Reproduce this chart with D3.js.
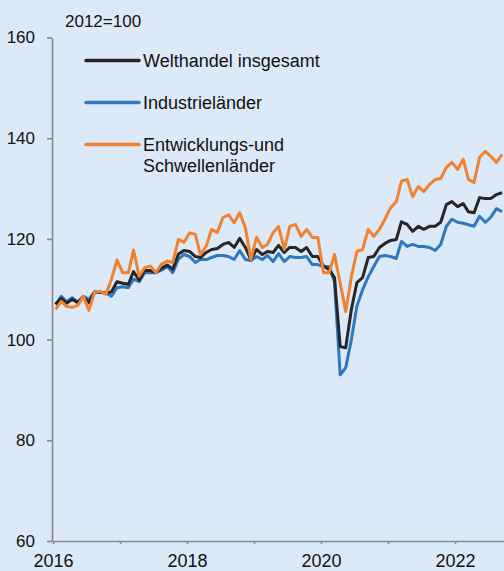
<!DOCTYPE html>
<html>
<head>
<meta charset="utf-8">
<script src="https://cdn.jsdelivr.net/npm/d3@7"></script>
<style>
  body { margin: 0; background: #dce9f8; }
  svg { display: block; font-family: "Liberation Sans", Arial, sans-serif; }
  .axis path, .axis line { stroke: #8c8c8c; stroke-width: 1.7; }
</style>
</head>
<body>
<svg width="504" height="571"></svg>
<script>
// Monatswerte Jan 2016 - Sep 2022, 2012=100
var welthandel = [
  107, 108.2, 107.2, 108, 107.3, 108.5, 107.3, 109.4, 109.4, 109.2, 109.5, 111.5,
  111.2, 111, 113.5, 111.8, 113.7, 113.7, 113.3, 114.2, 114.8, 114, 117, 117.7,
  117.5, 116.5, 116.3, 117.3, 117.9, 118.1, 118.9, 119.3, 118.3, 120.1, 118.3, 115.9,
  117.9, 116.9, 117.5, 117.3, 118.7, 117.3, 118.3, 118.3, 117.5, 118.3, 116.5, 116.5,
  114.6, 113.9, 112.3, 98.6, 98.4, 106, 111.3, 112.3, 116.3, 116.5, 118.3, 119.1,
  119.7, 119.9, 123.4, 122.9, 121.5, 122.5, 121.9, 122.5, 122.5, 123.3, 126.8, 127.4,
  126.4, 127, 125.4, 125.2, 128.2, 128, 128, 128.8, 129.2
];
var industrie = [
  107, 108.6, 107.5, 108.3, 107.5, 108.6, 108, 109.5, 109.4, 109.3, 108.6, 110.3,
  110.5, 110.3, 112, 111.5, 113.3, 113.3, 113.3, 113.8, 114.5, 113.3, 116, 116.9,
  116.5, 115.3, 115.9, 115.9, 116.3, 116.7, 116.7, 116.5, 115.9, 117.7, 115.9, 115.7,
  116.5, 115.9, 116.7, 115.5, 117.1, 115.5, 116.5, 116.3, 116.3, 116.5, 114.9, 114.9,
  114.5, 114.5, 111.5, 93, 94.4, 100, 106.6, 109.9, 112.5, 114.5, 116.5, 116.7,
  116.5, 116.1, 119.5, 118.5, 118.9, 118.5, 118.5, 118.3, 117.7, 118.9, 122.5, 123.9,
  123.3, 123.1, 122.8, 122.5, 124.5, 123.3, 124.3, 126, 125.4
];
var schwellen = [
  106, 107.6, 106.6, 106.4, 106.8, 108.6, 105.8, 109.4, 109.6, 109, 112, 115.8,
  113.3, 113.3, 117.8, 112.6, 114.3, 114.6, 113.3, 115, 115.6, 115.3, 119.9, 119.3,
  121.2, 120.9, 116.9, 118.5, 121.9, 121.3, 124.2, 124.8, 123.2, 125.2, 122.2, 115.9,
  120.3, 118.3, 118.9, 121.2, 122.5, 117.9, 122.5, 122.9, 120.5, 121.9, 120.3, 120.3,
  113.3, 113.3, 116.9, 111.2, 105.6, 112.5, 117.5, 117.9, 121.9, 120.5, 121.9, 123.9,
  126.2, 127.4, 131.5, 131.8, 128.4, 130.4, 129.4, 130.8, 131.8, 132, 134.2, 135.2,
  133.8, 135.8, 131.8, 131.2, 136.2, 137.4, 136.4, 135.2, 136.8
];
var yTicks = [60, 80, 100, 120, 140, 160];
var labelYears = [2016, 2018, 2020, 2022];

// Monate (Mitte des Monats)
var months = d3.timeMonth.range(new Date(2016, 0, 1), new Date(2022, 9, 1))
  .map(function(d) { return new Date(d.getFullYear(), d.getMonth(), 15); });

var series = [
  {name: "Industrieländer", values: industrie, color: "#2f78bf"},
  {name: "Welthandel insgesamt", values: welthandel, color: "#262626"},
  {name: "Entwicklungs-und|Schwellenländer", values: schwellen, color: "#f28130"}
];

var svg = d3.select("svg");

var x = d3.scaleTime()
  .domain([new Date(2016, 0, 1), new Date(2022, 0, 1)])
  .range([53, 455]);
x.domain([x.domain()[0], x.invert(504)]).range([53, 504]);

var y = d3.scaleLinear()
  .domain([60, 160])
  .range([541, 37.5]);

// y-Achse
var yAxis = svg.append("g")
  .attr("class", "axis")
  .attr("transform", "translate(52,0)")
  .call(d3.axisLeft(y).tickValues(yTicks).tickSize(5).tickSizeOuter(0).tickPadding(12));
yAxis.selectAll("text")
  .attr("font-size", 17)
  .attr("font-family", "Liberation Sans, Arial, sans-serif")
  .attr("fill", "#111");

// x-Achse
var xAxis = svg.append("g")
  .attr("class", "axis")
  .attr("transform", "translate(0,541)")
  .call(d3.axisBottom(x).ticks(d3.timeYear.every(1)).tickSize(3).tickSizeOuter(0)
    .tickFormat(function(d) {
      return labelYears.indexOf(d.getFullYear()) >= 0 ? d.getFullYear() : "";
    }));
xAxis.selectAll("text")
  .attr("y", 13)
  .attr("dy", "0.71em")
  .attr("font-size", 18)
  .attr("font-family", "Liberation Sans, Arial, sans-serif")
  .attr("fill", "#111");

var line = d3.line()
  .x(function(d, i) { return x(months[i]); })
  .y(function(d) { return y(d); });

svg.append("g")
  .selectAll("path")
  .data(series)
  .enter().append("path")
    .attr("d", function(d) { return line(d.values); })
    .attr("fill", "none")
    .attr("stroke", function(d) { return d.color; })
    .attr("stroke-width", 3)
    .attr("stroke-linejoin", "round");

// Basisjahr
svg.append("text")
  .attr("x", 65)
  .attr("y", 27)
  .attr("font-size", 17)
  .attr("fill", "#111")
  .text("2012=100");

// Legende
var legendOrder = [series[1], series[0], series[2]];
var legend = svg.append("g")
  .selectAll("g")
  .data(legendOrder)
  .enter().append("g")
    .attr("transform", function(d, i) { return "translate(0," + (60.5 + i * 42) + ")"; });

legend.append("line")
  .attr("x1", 86)
  .attr("x2", 139)
  .attr("stroke", function(d) { return d.color; })
  .attr("stroke-width", 3.5)
  .attr("stroke-linecap", "round");

legend.append("text")
  .attr("x", 143)
  .attr("font-size", 18)
  .attr("fill", "#111")
  .selectAll("tspan")
  .data(function(d) { return d.name.split("|"); })
  .enter().append("tspan")
    .attr("x", 143)
    .attr("y", function(d, i) { return i * 21.5; })
    .attr("dy", "0.35em")
    .text(function(d) { return d; });
</script>
</body>
</html>
